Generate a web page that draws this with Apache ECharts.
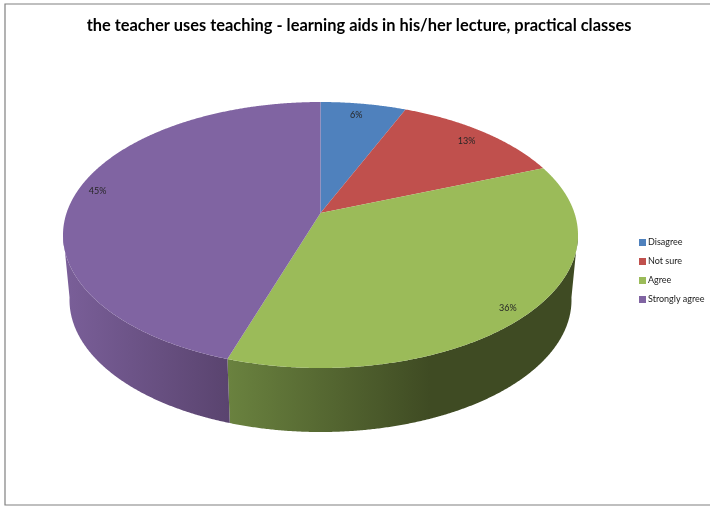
<!DOCTYPE html>
<html><head><meta charset="utf-8">
<style>html,body{margin:0;padding:0;background:#fff}#c{width:710px;height:507px}</style>
<script src="https://cdn.jsdelivr.net/npm/echarts@6/dist/echarts.min.js"></script>
</head><body><div id="c"></div>
<script>
const chartTitle = 'the teacher uses teaching - learning aids in his/her lecture, practical classes';
const categories = ['Disagree', 'Not sure', 'Agree', 'Strongly agree'];
const percents = [6.3, 12.7, 36, 45];
const colors = ['#4f81bd', '#c0504d', '#9bbb59', '#8064a2'];

const top3d = {cx: 320.5, cy: 235, rx: 257.5, ry: 133};
const low3d = {cx: 320.5, cy: 300, rx: 251, ry: 132};
const tilt = -0.165;
const labelRadii = [0.88, 0.88, 0.93, 0.92];
const labelTurn = [-0.014, 0.009, 0.031, 0.035];
const total = percents.reduce((a, b) => a + b, 0);
const wallFill = {
  2: [228, 430, '#6a823f', '#3f4b23'],
  3: [64, 228, '#7a5f99', '#5a446f']
};
function project(theta, r) {
  const u = r * Math.sin(theta), v = -r * Math.cos(theta);
  const d = 1 + tilt * v;
  return [u * Math.sqrt(1 - tilt * tilt) / d, (v + tilt) / d];
}
const toPx = (p, e) => [e.cx + p[0] * e.rx, e.cy + p[1] * e.ry];

function renderSlice(params, api) {
  const i = params.seriesIndex;
  const val = api.value(0);
  let before = 0;
  for (let k = 0; k < i; k++) before += percents[k];
  const a0 = before / total * 2 * Math.PI, a1 = (before + val) / total * 2 * Math.PI;
  const steps = Math.max(8, Math.round(val * 12));
  const pts = [];
  for (let s = 0; s <= steps; s++) pts.push(project(a0 + (a1 - a0) * s / steps, 1));
  const children = [];
  const vis = pts.filter(p => p[1] > -0.02);
  if (vis.length > 1 && wallFill[i]) {
    const w = wallFill[i];
    const poly = vis.map(p => toPx(p, top3d)).concat(vis.slice().reverse().map(p => toPx(p, low3d)));
    children.push({
      type: 'polygon', shape: {points: poly},
      style: {fill: new echarts.graphic.LinearGradient(w[0], 0, w[1], 0,
        [{offset: 0, color: w[2]}, {offset: 1, color: w[3]}], true)}
    });
  }
  const apex = toPx(project(0, 0), top3d);
  children.push({
    type: 'polygon',
    shape: {points: [apex].concat(pts.map(p => toPx(p, top3d)))},
    style: {fill: colors[i]}
  });
  const lp = toPx(project((a0 + a1) / 2 + labelTurn[i], labelRadii[i]), top3d);
  children.push({
    type: 'text', x: lp[0], y: lp[1],
    style: {text: Math.round(val) + '%', fill: '#262626', font: '9px Lato', align: 'center', verticalAlign: 'middle'}
  });
  return {type: 'group', children};
}

const chart = echarts.init(document.getElementById('c'), null, {renderer: 'canvas'});
chart.setOption({
  animation: false,
  backgroundColor: '#ffffff',
  color: colors,
  title: {
    text: chartTitle, left: 354, top: 13, textAlign: 'center',
    textStyle: {fontFamily: 'Lato', fontWeight: 'bold', fontSize: 16.4, color: '#000'}
  },
  legend: {
    orient: 'vertical', left: 634, top: 233, itemWidth: 7, itemHeight: 7, itemGap: 10,
    icon: 'rect', data: categories,
    textStyle: {fontFamily: 'Lato', fontSize: 9, color: '#222', padding: [0, 0, 0, -3]}
  },
  graphic: [{
    type: 'polyline', silent: true,
    shape: {points: [[710, 4], [5, 4], [5, 505], [710, 505]]},
    style: {stroke: '#808080', lineWidth: 1.2, fill: null}
  }],
  series: categories.map((name, i) => ({
    type: 'custom', name, coordinateSystem: 'none',
    renderItem: renderSlice, data: [[percents[i]]], silent: true
  }))
});
</script></body></html>
